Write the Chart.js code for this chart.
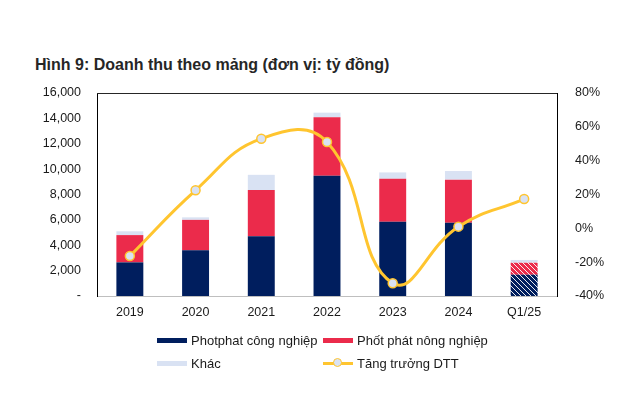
<!DOCTYPE html>
<html><head><meta charset="utf-8">
<script src="https://cdn.jsdelivr.net/npm/chart.js@4.4.1/dist/chart.umd.min.js"></script>
<style>
html,body{margin:0;padding:0;background:#fff;}
#wrap{position:relative;width:619px;height:399px;font-family:"Liberation Sans",Arial,sans-serif;}
#title{position:absolute;left:35px;top:56px;font-size:16px;font-weight:bold;color:#262626;white-space:nowrap;}
canvas{position:absolute;left:0;top:0;}
.lg{position:absolute;font-size:13px;color:#1a1a1a;white-space:nowrap;display:flex;align-items:center;}
.sw{display:inline-block;width:30px;height:5px;margin-right:4px;}
.ln{position:relative;display:inline-block;width:30px;height:2.5px;margin-right:4px;}
.ln i{position:absolute;left:10px;top:-4px;width:7px;height:7px;border-radius:50%;border:1.5px solid #FFC52F;background:#DAE3F3;}
</style></head>
<body><div id="wrap">
<div id="title">Hình 9: Doanh thu theo mảng (đơn vị: tỷ đồng)</div>
<canvas id="c" width="619" height="399"></canvas>
<div id="legend"></div>
</div>
<script>
const categories = ["2019","2020","2021","2022","2023","2024","Q1/25"];
const photphatCN = [2650, 3600, 4700, 9480, 5860, 5780, 1680];
const photphatNN = [2150, 2400, 3650, 4600, 3380, 3390, 940];
const khac = [300, 200, 1200, 370, 500, 680, 220];
const tangTruong = [-16.4, 22.5, 53, 51, -32.5, 1, 17.3];
const leftTicks = [0, 2000, 4000, 6000, 8000, 10000, 12000, 14000, 16000];
const rightTicks = [-40, -20, 0, 20, 40, 60, 80];

const NAVY = "#001E5E", RED = "#EB2B4B", LIGHT = "#D9E2F3", YEL = "#FFC52F";

function hatch(color){
  const p = document.createElement('canvas'); p.width = 5; p.height = 5;
  const g = p.getContext('2d');
  g.fillStyle = color; g.fillRect(0,0,5,5);
  g.strokeStyle = "rgba(255,255,255,0.9)"; g.lineWidth = 1;
  g.beginPath();
  g.moveTo(0,0); g.lineTo(5,5);
  g.moveTo(-1,4); g.lineTo(1,6);
  g.moveTo(4,-1); g.lineTo(6,1);
  g.stroke();
  return g.createPattern(p,'repeat');
}
function colors(base){
  return categories.map((c,i)=> i===categories.length-1 ? hatch(base) : base);
}

const topBorder = {
  id:'topBorder',
  afterDraw(chart){
    const {ctx, chartArea:a} = chart;
    ctx.save(); ctx.strokeStyle='#262626'; ctx.lineWidth=1;
    ctx.beginPath(); ctx.moveTo(a.left, a.top+0.5); ctx.lineTo(a.right, a.top+0.5); ctx.stroke();
    ctx.restore();
  }
};

const fontT = {family:"'Liberation Sans', Arial, sans-serif", size:12.5};
new Chart(document.getElementById('c'), {
  data:{
    labels: categories,
    datasets:[
      {type:'line', label:'Tăng trưởng DTT', data:tangTruong, yAxisID:'y2', order:0,
       borderColor:YEL, borderWidth:3, tension:0.45, pointRadius:4.5,
       pointBackgroundColor:LIGHT, pointBorderColor:YEL, pointBorderWidth:1.5},
      {type:'bar', label:'Photphat công nghiệp', data:photphatCN, backgroundColor:colors(NAVY), stack:'s', order:1, barPercentage:0.82, categoryPercentage:0.5},
      {type:'bar', label:'Phốt phát nông nghiệp', data:photphatNN, backgroundColor:colors(RED), stack:'s', order:1, barPercentage:0.82, categoryPercentage:0.5},
      {type:'bar', label:'Khác', data:khac, backgroundColor:LIGHT, stack:'s', order:1, barPercentage:0.82, categoryPercentage:0.5}
    ]
  },
  options:{
    responsive:false, animation:false,
    layout:{padding:{top:93,left:0,right:0,bottom:0}},
    plugins:{legend:{display:false}, tooltip:{enabled:false}, title:{display:false}},
    scales:{
      x:{stacked:true, grid:{display:false}, border:{display:true,color:'#BFBFBF',width:1},
         ticks:{color:'#1a1a1a', font:fontT, padding:1},
         afterFit:s=>{s.height=103;}},
      y:{stacked:true, position:'left', min:0, max:16000,
         grid:{display:false}, border:{display:true,color:'#000',width:1},
         afterBuildTicks:s=>{s.ticks = leftTicks.map(v=>({value:v}));},
         ticks:{color:'#1a1a1a', font:fontT, padding:8,
           callback:v=> v===0 ? '-' : v.toLocaleString('en-US')},
         afterFit:s=>{s.width=97;}},
      y2:{position:'right', min:-40, max:80,
         grid:{display:false}, border:{display:true,color:'#000',width:1},
         afterBuildTicks:s=>{s.ticks = rightTicks.map(v=>({value:v}));},
         ticks:{color:'#1a1a1a', font:fontT, padding:10, callback:v=> v+'%'},
         afterFit:s=>{s.width=62;}}
    }
  },
  plugins:[topBorder]
});

const legendItems = [
  {label:'Photphat công nghiệp', kind:'box', color:NAVY, x:157, y:333},
  {label:'Phốt phát nông nghiệp', kind:'box', color:RED, x:323, y:333},
  {label:'Khác', kind:'box', color:LIGHT, x:157, y:356},
  {label:'Tăng trưởng DTT', kind:'line', color:YEL, x:323, y:356}
];
const lg = document.getElementById('legend');
legendItems.forEach(it=>{
  const d = document.createElement('div'); d.className='lg';
  d.style.left = it.x+'px'; d.style.top = it.y+'px';
  if(it.kind==='box'){ d.innerHTML = `<span class="sw" style="background:${it.color}"></span>`; }
  else { d.innerHTML = `<span class="ln" style="background:${it.color}"><i></i></span>`; }
  d.appendChild(document.createTextNode(it.label));
  lg.appendChild(d);
});
</script>
</body></html>
